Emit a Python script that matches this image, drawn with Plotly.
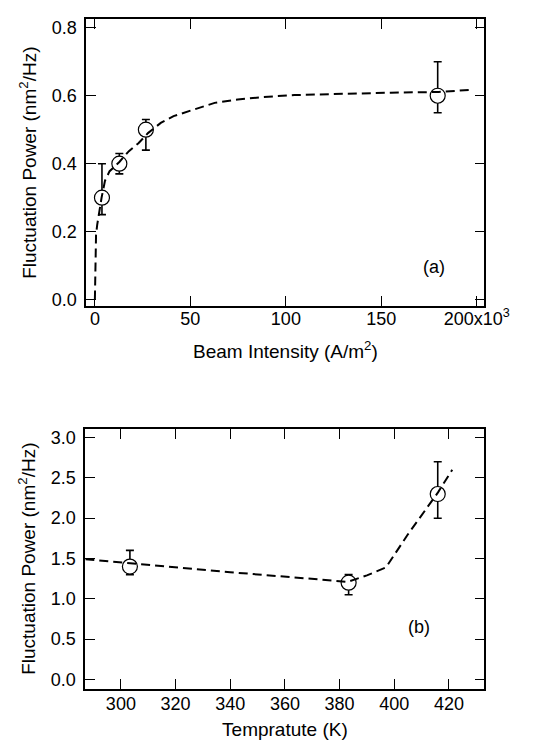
import plotly.graph_objects as go

# Panel (a): fluctuation power vs beam intensity (x in units of 10^3 A/m^2)
a_x = [3.7, 12.8, 26.7, 179.5]
a_y = [0.30, 0.40, 0.50, 0.60]
a_err_plus = [0.10, 0.03, 0.03, 0.10]
a_err_minus = [0.05, 0.03, 0.06, 0.05]
a_fit_x = [0.0, 0.1, 0.3, 0.6, 1.2, 2.0, 3.5, 5.3, 7.7, 10.0, 12.8, 17.8, 22.8, 27.8,
           34.5, 41.2, 49.7, 62.7, 74.8, 87.8, 104.5, 121.0, 138.0, 155.0, 180.0, 198.0]
a_fit_y = [0.0, 0.08, 0.15, 0.19, 0.22, 0.25, 0.30, 0.35, 0.378, 0.39, 0.405, 0.437, 0.46, 0.49,
           0.52, 0.54, 0.556, 0.579, 0.589, 0.596, 0.602, 0.605, 0.607, 0.609, 0.611, 0.618]
a_xticks = [0, 50, 100, 150, 200]
a_xticktext = ["0", "50", "100", "150", "200x10<sup>3</sup>"]
a_yticks = [0.0, 0.2, 0.4, 0.6, 0.8]

# Panel (b): fluctuation power vs temperature
b_x = [303.3, 383.3, 415.9]
b_y = [1.40, 1.20, 2.30]
b_err_plus = [0.20, 0.10, 0.40]
b_err_minus = [0.10, 0.15, 0.30]
b_fit_x = [287.0, 303.0, 340.0, 383.0, 390.0, 397.0, 405.0, 416.0, 421.2]
b_fit_y = [1.49, 1.44, 1.33, 1.21, 1.29, 1.39, 1.80, 2.32, 2.60]
b_xticks = [300, 320, 340, 360, 380, 400, 420]
b_yticks = [0.0, 0.5, 1.0, 1.5, 2.0, 2.5, 3.0]

FONT = "Arial, Liberation Sans, Helvetica, sans-serif"
W, H = 554, 744

fig = go.Figure()

dash_line = dict(color="black", width=2, dash="9px,5px")
marker = dict(symbol="circle", size=15, color="white", line=dict(width=1.2, color="black"))

fig.add_trace(go.Scatter(x=a_x, y=a_y, mode="markers", marker=marker,
                         error_y=dict(type="data", symmetric=False, array=a_err_plus,
                                      arrayminus=a_err_minus, color="black", thickness=1.6, width=4),
                         xaxis="x", yaxis="y", showlegend=False))
fig.add_trace(go.Scatter(x=a_fit_x, y=a_fit_y, mode="lines", line=dash_line,
                         xaxis="x", yaxis="y", showlegend=False, hoverinfo="skip"))

fig.add_trace(go.Scatter(x=b_x, y=b_y, mode="markers", marker=marker,
                         error_y=dict(type="data", symmetric=False, array=b_err_plus,
                                      arrayminus=b_err_minus, color="black", thickness=1.6, width=4),
                         xaxis="x2", yaxis="y2", showlegend=False))
fig.add_trace(go.Scatter(x=b_fit_x, y=b_fit_y, mode="lines", line=dash_line,
                         xaxis="x2", yaxis="y2", showlegend=False, hoverinfo="skip"))

def ax_common():
    return dict(showline=True, linecolor="black", linewidth=1.8, mirror="ticks",
                ticks="inside", ticklen=10, tickwidth=1.4, tickcolor="black",
                showgrid=False, zeroline=False,
                tickfont=dict(family=FONT, size=18, color="black"))

ytitle = "Fluctuation Power (nm<sup>2</sup>/Hz)"

fig.update_layout(
    width=W, height=H,
    margin=dict(l=0, r=0, t=0, b=0),
    paper_bgcolor="white", plot_bgcolor="white",
    font=dict(family=FONT, color="black"),
    xaxis=dict(domain=[82 / W, 499 / W], anchor="y", range=[-4.5, 204],
               tickvals=a_xticks, ticktext=a_xticktext, ticklabelstandoff=-5,
               title=dict(text="Beam Intensity (A/m<sup>2</sup>)", font=dict(size=19), standoff=17),
               **ax_common()),
    yaxis=dict(domain=[1 - 299 / H, 1 - 10 / H], anchor="x", range=[-0.02, 0.826],
               tickvals=a_yticks, tickformat=".1f", ticklabelstandoff=4,
               title=dict(text=ytitle, font=dict(size=19), standoff=10),
               **ax_common()),
    xaxis2=dict(domain=[81 / W, 499 / W], anchor="y2", range=[287, 433],
                tickvals=b_xticks, ticklabelstandoff=-2,
                title=dict(text="Tempratute (K)", font=dict(size=19), standoff=10),
                **ax_common()),
    yaxis2=dict(domain=[1 - 683.3 / H, 1 - 422 / H], anchor="x2", range=[-0.115, 3.11],
                tickvals=b_yticks, tickformat=".1f", ticklabelstandoff=4,
                title=dict(text=ytitle, font=dict(size=19), standoff=10),
                **ax_common()),
    annotations=[
        dict(text="(a)", x=460 / W, y=1 - 247 / H, xref="paper", yref="paper",
             showarrow=False, font=dict(family=FONT, size=18, color="black")),
        dict(text="(b)", x=444 / W, y=1 - 633 / H, xref="paper", yref="paper",
             showarrow=False, font=dict(family=FONT, size=18, color="black")),
    ],
)

fig.write_html("out.html")
